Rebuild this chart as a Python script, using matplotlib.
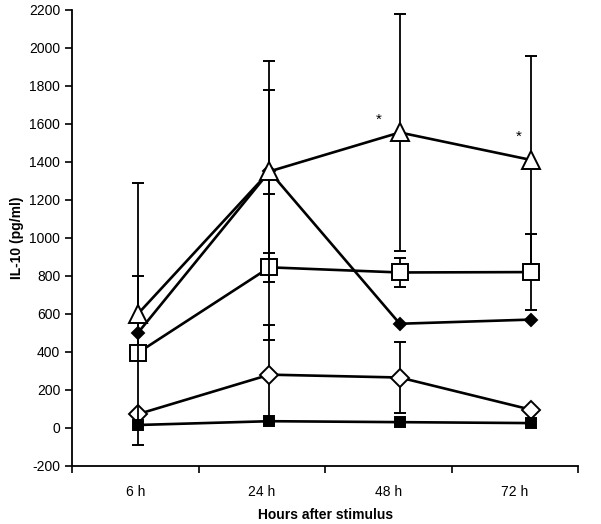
import matplotlib
matplotlib.use("Agg")
import matplotlib.pyplot as plt
from matplotlib.ticker import FuncFormatter

plt.rcParams["font.family"] = ["Liberation Sans", "DejaVu Sans"]

# categories and data
hours = ["6 h", "24 h", "48 h", "72 h"]
x_pts = [0.52, 1.56, 2.59, 3.63]  # where the points sit on the category axis

tri = [600, 1350, 1555, 1410]
tri_lo = [690, 580, 625, 545]
tri_hi = [690, 580, 625, 545]
fdia = [500, 1350, 548, 570]
fdia_lo = [0, 430, 0, 0]
fdia_hi = [0, 430, 0, 0]
osq = [395, 845, 818, 820]
osq_lo = [0, 385, 75, 200]
osq_hi = [405, 385, 75, 200]
odia = [72, 280, 265, 95]
odia_lo = [0, 260, 185, 0]
odia_hi = [0, 260, 185, 0]
fsq = [15, 35, 30, 25]

fig = plt.figure(figsize=(6.01, 5.24), dpi=100)
ax = fig.add_axes([0.12, 0.111, 0.842, 0.87])

err_kw = dict(ecolor="black", elinewidth=1.3, capsize=4, capthick=1.3)
series = [
    (fdia, [fdia_lo, fdia_hi], "D", 6, "black", 2),
    (tri, [tri_lo, tri_hi], "^", 13, "white", 3),
    (osq, [osq_lo, osq_hi], "s", 12, "white", 2),
    (odia, [odia_lo, odia_hi], "D", 9.5, "white", 2),
    (fsq, None, "s", 6.5, "black", 2),
]
for vals, err, mk, ms, fc, z in series:
    ax.errorbar(x_pts, vals, yerr=err, color="black", lw=1.9, marker=mk,
                markersize=ms, markerfacecolor=fc, markeredgecolor="black",
                markeredgewidth=1.4, zorder=z, **err_kw)

# significance marks
ax.text(2.42, 1620, "*", ha="center", va="center", fontsize=11)
ax.text(3.53, 1530, "*", ha="center", va="center", fontsize=11)

ax.set_xlim(0, 4)
ax.set_ylim(-200, 2200)
ax.set_yticks(range(-200, 2201, 200))
ax.yaxis.set_major_formatter(FuncFormatter(lambda v, p: f"{int(v)}"))
ax.set_xticks([0, 1, 2, 3, 4])
ax.set_xticklabels([])
ax.set_xticks([0.5, 1.5, 2.5, 3.5], minor=True)
ax.set_xticklabels(hours, minor=True)
ax.tick_params(axis="x", which="minor", length=0, pad=14, labelsize=10)
ax.tick_params(axis="x", which="major", length=5, width=1.2, direction="out")
ax.tick_params(axis="y", length=5, width=1.2, direction="out", labelsize=10)

for s in ["top", "right"]:
    ax.spines[s].set_visible(False)
for s in ["left", "bottom"]:
    ax.spines[s].set_linewidth(1.3)

ax.set_xlabel("Hours after stimulus", fontweight="bold", fontsize=10, labelpad=6)
ax.set_ylabel("IL-10 (pg/ml)", fontweight="bold", fontsize=10, labelpad=4)

fig.savefig("out.png", dpi=100)
